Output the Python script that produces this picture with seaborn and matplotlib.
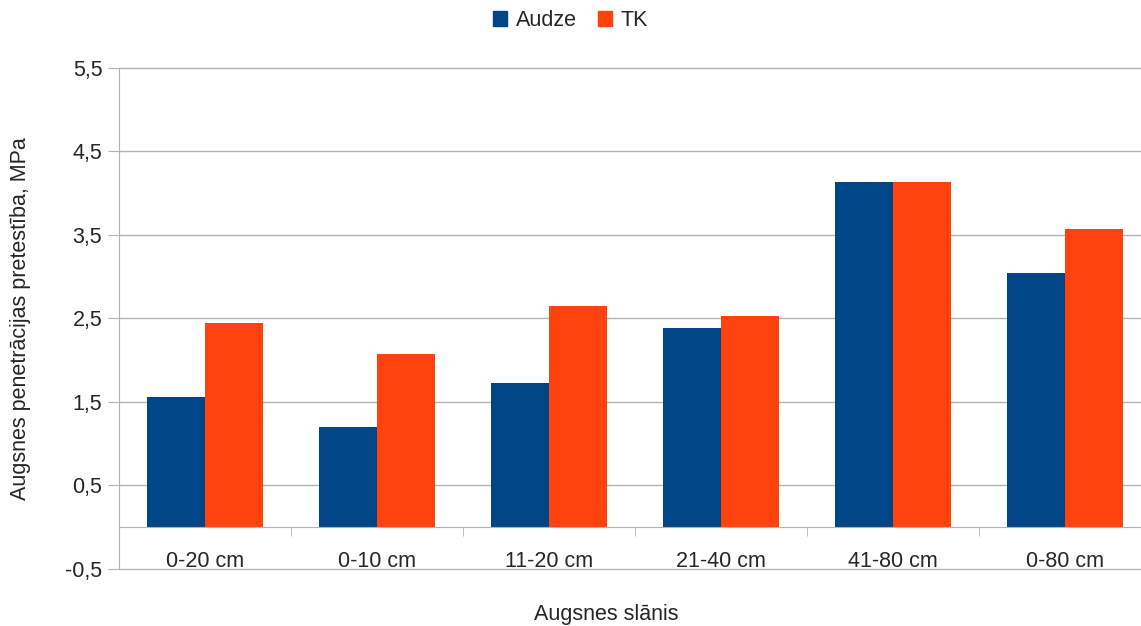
import matplotlib
matplotlib.use('Agg')
import matplotlib.pyplot as plt
import matplotlib.ticker as mticker
import pandas as pd
import seaborn as sns
import numpy as np

# Data
slani = ['0-20 cm', '0-10 cm', '11-20 cm', '21-40 cm', '41-80 cm', '0-80 cm']
audze = [1.56, 1.20, 1.73, 2.38, 4.14, 3.05]
tk = [2.44, 2.07, 2.65, 2.53, 4.13, 3.57]
series = ['Audze', 'TK']
y_ticks = [-0.5, 0.5, 1.5, 2.5, 3.5, 4.5, 5.5]

df = pd.DataFrame({
    'slanis': slani * 2,
    'serija': ['Audze'] * len(slani) + ['TK'] * len(slani),
    'vertiba': audze + tk,
})

sns.set_style('white')
plt.rcParams['font.family'] = ['Liberation Sans', 'DejaVu Sans']

fig = plt.figure(figsize=(11.41, 6.26), dpi=100)
# the plot area runs slightly past the right edge, as in the reference
ax = fig.add_axes([0.1043, 0.0911, 0.9045, 0.8003])

sns.barplot(data=df, x='slanis', y='vertiba', hue='serija', order=slani,
            hue_order=series, palette=['#004586', '#ff420e'], saturation=1,
            width=0.675, linewidth=0, ax=ax, legend=False)

ax.set_ylim(-0.5, 5.5)
ax.set_xlim(-0.5, len(slani) - 0.5)
ax.set_yticks(y_ticks)
ax.yaxis.set_major_formatter(mticker.FuncFormatter(lambda v, p: f'{v:.1f}'.replace('.', ',')))
ax.grid(axis='y', color='#b3b3b3', lw=1)
for gl in ax.get_ygridlines():
    gl.set_clip_on(False)
ax.set_axisbelow(True)

for s in ['top', 'right']:
    ax.spines[s].set_visible(False)
ax.spines['left'].set_color('#b3b3b3')
ax.spines['bottom'].set_color('#b3b3b3')
ax.spines['bottom'].set_position(('data', 0))

ax.tick_params(axis='y', which='major', left=True, length=8, color='#b3b3b3',
               labelsize=15.5, pad=4)
ax.set_xticks(range(len(slani)))
ax.set_xticks(np.arange(-0.5, len(slani), 1.0), minor=True)
ax.tick_params(axis='x', which='major', bottom=True, length=0, labelsize=15.5, pad=17)
ax.tick_params(axis='x', which='minor', bottom=True, length=6.5, color='#b3b3b3')

ax.set_xlabel('Augsnes slānis', fontsize=15.5)
ax.set_ylabel('Augsnes penetrācijas pretestība, MPa', fontsize=15.5)
ax.yaxis.set_label_coords(-0.085, 0.5)
ax.xaxis.set_label_coords((606 - 119) / 1032, -0.07)

handles = [plt.Rectangle((0, 0), 1, 1, color=c) for c in ['#004586', '#ff420e']]
fig.legend(handles, series, loc='center', bbox_to_anchor=(0.5, 0.967), ncol=2,
           frameon=False, fontsize=15.5, handlelength=0.65, handleheight=0.65,
           handletextpad=0.4, columnspacing=1.0)

fig.savefig('out.png', dpi=100)
